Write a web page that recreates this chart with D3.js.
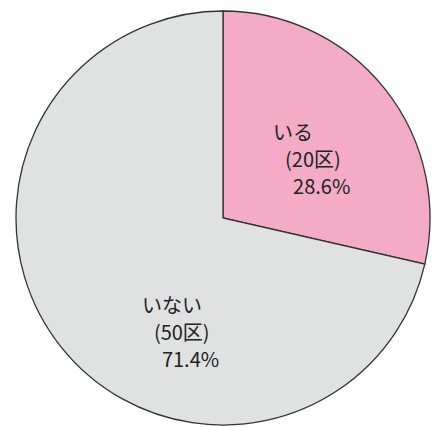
<!DOCTYPE html>
<html><head><meta charset="utf-8">
<script src="https://cdn.jsdelivr.net/npm/d3@7"></script>
<style>body{margin:0;background:#fff}svg{display:block}</style>
</head><body>
<script>
const categories = ["いる", "いない"];
const counts = [20, 50];
const countLabels = ["(20区)", "(50区)"];
const percentLabels = ["28.6%", "71.4%"];
const colors = ["#f4abc6", "#dfe2e1"];

const W = 432, H = 427, cx = 223, cy = 218, R = 207;
const svg = d3.select("body").append("svg").attr("width", W).attr("height", H);
const g = svg.append("g").attr("transform", `translate(${cx},${cy})`);

const pie = d3.pie().sort(null).value(d => d.v);
const data = categories.map((c, i) => ({c, v: counts[i], i}));
const arcs = pie(data);
const arc = d3.arc().innerRadius(0).outerRadius(R);

g.selectAll("path.slice").data(arcs).join("path")
  .attr("class", "slice")
  .attr("d", arc)
  .attr("fill", d => colors[d.data.i])
  .attr("stroke", "#333").attr("stroke-width", 1.3);

// label anchor positions relative to each slice's centroid
const labelArc = d3.arc().innerRadius(0).outerRadius(R * 1.2);
const offsets = [[-47, -1], [16, 18]];
const lineDx = [0, 12, 20];
arcs.forEach((a, k) => {
  const [x, y] = labelArc.centroid(a);
  const x0 = x + offsets[k][0], y0 = y + offsets[k][1];
  const lines = [a.data.c, countLabels[a.data.i], percentLabels[a.data.i]];
  lines.forEach((t, j) => {
    g.append("text")
      .attr("x", x0 + lineDx[j]).attr("y", y0 + j * 27)
      .attr("font-family", "'Noto Sans CJK JP', sans-serif")
      .attr("font-size", 20).attr("fill", "#222")
      .text(t);
  });
});
</script>
</body></html>
